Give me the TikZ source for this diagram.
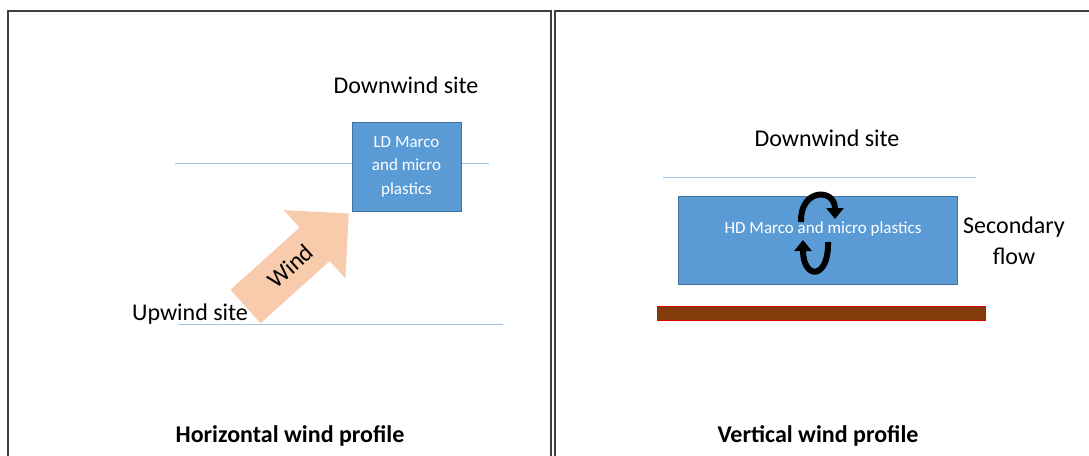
\documentclass[tikz,border=0pt]{standalone}
\usepackage{fontspec}
\setmainfont{Carlito}
\usetikzlibrary{arrows.meta}
\definecolor{boxblue}{HTML}{5B9BD5}
\definecolor{boxedge}{HTML}{41719C}
\definecolor{lineblue}{HTML}{9DC3E6}
\definecolor{windpeach}{HTML}{F8CBAD}
\definecolor{soilbrown}{HTML}{843C0C}
\definecolor{soiledge}{HTML}{E00000}

\begin{document}
\begin{tikzpicture}[x=1pt, y=-1pt, every node/.style={font=\fontsize{24}{29}\selectfont, inner sep=0pt}]
\tikzset{
  frame/.style={draw=black!75, line width=1.4pt},
  site/.style={draw=lineblue, line width=0.9pt},
  pbox/.style={draw=boxedge, fill=boxblue, line width=1pt, text=white, align=center,
    font=\fontsize{17}{23.5}\selectfont},
  ttl/.style={font=\fontsize{24}{29}\selectfont\bfseries},
  swirl/.style={line width=6pt, -{Triangle[length=11pt,width=17pt]}}
}
\useasboundingbox (0,0) rectangle (1089,455);

% --- horizontal wind profile ---
\draw[frame] (8,11) rectangle (551,475);
\draw[site] (175,163) -- (489,163);
\draw[site] (178,324) -- (503,324);
\node (ldown) at (406,85) {Downwind site};
\node[pbox, minimum width=109pt, minimum height=89pt] (lbox) at (406.5,166.5) {LD Marco\\and micro\\plastics};
\begin{scope}[shift={(245.5,306.5)}, rotate=42]
  \fill[windpeach] (0,22.5) -- (93,22.5) -- (93,46) -- (139,0) -- (93,-46) -- (93,-22.5) -- (0,-22.5) -- cycle;
\end{scope}
\node[rotate=42] (wind) at (290,266) {Wind};
\node (lup) at (190,314) {Upwind site};
\node[ttl] (ltitle) at (290,436) {Horizontal wind profile};

% --- vertical wind profile ---
\draw[frame] (555,11) rectangle (1100,475);
\node (rdown) at (827,138) {Downwind site};
\draw[site] (663,177) -- (976,177);
\node[pbox, minimum width=279pt, minimum height=88pt] (rbox) at (817.5,240) {};
\node[text=white, font=\fontsize{17}{23.5}\selectfont] (rtext) at (823,229) {HD Marco and micro plastics};
\draw[swirl] (801,222) .. controls (800,188) and (835,188) .. (835,219);
\draw[swirl] (828,242) .. controls (829,280) and (803,280) .. (803,240);
\node[align=center, font=\fontsize{24}{31}\selectfont] (sflow) at (1014,241) {Secondary\\flow};
\node[draw=soiledge, fill=soilbrown, line width=1pt, minimum width=328pt, minimum height=14pt] (soil) at (821,313) {};
\node[ttl] (rtitle) at (818,436) {Vertical wind profile};
\end{tikzpicture}
\end{document}
